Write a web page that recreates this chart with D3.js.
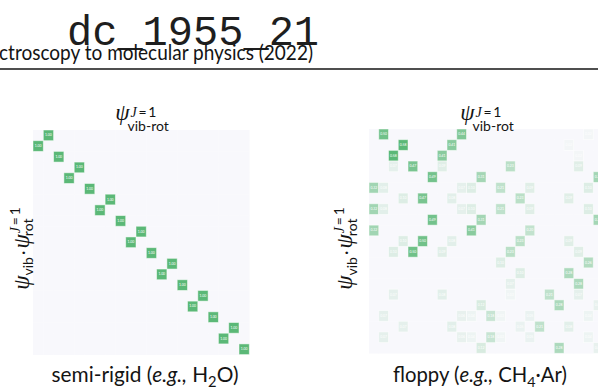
<!DOCTYPE html>
<html>
<head>
<meta charset="utf-8">
<script src="https://cdn.jsdelivr.net/npm/d3@7"></script>
<style>
  html, body { margin: 0; padding: 0; background: #fff; overflow: hidden; }
  svg { display: block; }
</style>
</head>
<body>
<svg id="chart" width="598" height="387"></svg>
<script>
// ---- header text ----
const headerCode = "dc_1955_21";
const headerSubtitle = "ctroscopy to molecular physics (2022)";

// ---- panel captions ----
const panelNames = ["semi-rigid", "floppy"];
const panelExamples = [["H", "2", "O)"], ["CH", "4", "\u00b7Ar)"]];

// ---- semi-rigid molecule: one 1.00 entry per row, column index per row ----
const rigidCols = [1, 0, 2, 4, 3, 5, 7, 6, 8, 10, 9, 11, 13, 12, 14, 16, 15, 17, 19, 18, 20];
const rigidValue = 1.00;
const rigidShape = [21, 21];

// ---- floppy complex: sparse overlap entries [row, col, value] ----
const floppyShape = [21, 24];
const floppyCells = [
  [0, 1, 0.50], [0, 9, 0.44], [0, 22, 0.02],
  [1, 3, 0.58], [1, 8, 0.41], [1, 20, 0.02],
  [2, 2, 0.58], [2, 7, 0.41], [2, 21, 0.02],
  [3, 2, 0.07], [3, 4, 0.47], [3, 7, 0.09], [3, 14, 0.23], [3, 21, 0.09],
  [4, 6, 0.49], [4, 11, 0.31], [4, 23, 0.31],
  [5, 0, 0.32], [5, 1, 0.08], [5, 9, 0.07], [5, 10, 0.10], [5, 13, 0.21], [5, 16, 0.09], [5, 22, 0.10],
  [6, 3, 0.10], [6, 5, 0.47], [6, 8, 0.08], [6, 15, 0.23], [6, 20, 0.09],
  [7, 0, 0.32], [7, 1, 0.08], [7, 9, 0.07], [7, 10, 0.10], [7, 13, 0.21], [7, 16, 0.09], [7, 22, 0.10],
  [8, 6, 0.49], [8, 11, 0.31], [8, 23, 0.31],
  [9, 0, 0.32], [9, 10, 0.41], [9, 16, 0.20],
  [10, 3, 0.10], [10, 5, 0.50], [10, 8, 0.08], [10, 15, 0.23], [10, 20, 0.09],
  [11, 2, 0.10], [11, 4, 0.50], [11, 7, 0.09], [11, 14, 0.23], [11, 21, 0.09],
  [12, 13, 0.10], [12, 22, 0.26],
  [13, 15, 0.10], [13, 20, 0.28],
  [14, 14, 0.07], [14, 21, 0.28],
  [15, 2, 0.07], [15, 7, 0.08], [15, 14, 0.03], [15, 18, 0.21], [15, 21, 0.07],
  [16, 11, 0.12], [16, 19, 0.28], [16, 23, 0.06],
  [17, 1, 0.07], [17, 9, 0.06], [17, 10, 0.04], [17, 12, 0.18], [17, 13, 0.03], [17, 16, 0.05], [17, 22, 0.04],
  [18, 3, 0.07], [18, 8, 0.08], [18, 15, 0.05], [18, 17, 0.21], [18, 20, 0.08],
  [19, 1, 0.07], [19, 9, 0.06], [19, 10, 0.04], [19, 12, 0.18], [19, 13, 0.03], [19, 16, 0.05], [19, 22, 0.04],
  [20, 11, 0.12], [20, 19, 0.28], [20, 23, 0.06]
];

// ---- styling ----
const W = 598, H = 387;
const SANS = "Lato, 'Open Sans', 'DejaVu Sans', sans-serif";
const MATH = "'Liberation Serif', 'DejaVu Serif', serif";
const INK = "#141414";
const LOW = "#f8f8fc", HIGH = "#5bb877";

const svg = d3.select("#chart");

// header: code line, subtitle on top, rule
svg.append("text")
  .attr("x", 67).attr("y", 45)
  .attr("font-family", "'Liberation Mono', 'DejaVu Sans Mono', monospace")
  .attr("font-size", 42).attr("fill", "#1e1e1e")
  .text(headerCode);
svg.append("text")
  .attr("x", -1).attr("y", 60)
  .attr("font-family", SANS).attr("font-size", 21)
  .attr("textLength", 314).attr("lengthAdjust", "spacingAndGlyphs")
  .attr("fill", INK).text(headerSubtitle);
svg.append("line")
  .attr("x1", 0).attr("x2", W).attr("y1", 69).attr("y2", 69)
  .attr("stroke", INK).attr("stroke-width", 1.5);

const panels = [
  {
    name: panelNames[0], example: panelExamples[0],
    shape: rigidShape, vmax: 1.0,
    cells: rigidCols.map((c, r) => [r, c, rigidValue]),
    box: { x0: 33, x1: 249.3, y0: 130, y1: 354.6 },
    titleCx: 142, ylabX: 28.5, capCx: 145, capW: 187
  },
  {
    name: panelNames[1], example: panelExamples[1],
    shape: floppyShape, vmax: 0.58,
    cells: floppyCells,
    box: { x0: 369, x1: 603, y0: 129, y1: 353.3 },
    titleCx: 487, ylabX: 352, capCx: 480, capW: 174
  }
];

const fmt = d3.format(".2f");

function drawHeatmap(g, p) {
  const [nRows, nCols] = p.shape;
  const x = d3.scaleBand().domain(d3.range(nCols)).range([p.box.x0, p.box.x1]);
  const y = d3.scaleBand().domain(d3.range(nRows)).range([p.box.y0, p.box.y1]);
  const color = d3.scaleLinear().domain([0, p.vmax]).range([LOW, HIGH])
    .interpolate(d3.interpolateRgb).clamp(true);
  const lookup = new Map(p.cells.map(d => [d[0] * 1000 + d[1], d[2]]));
  const grid = [];
  for (let r = 0; r < nRows; r++)
    for (let c = 0; c < nCols; c++)
      grid.push({ r, c, v: lookup.get(r * 1000 + c) || 0 });

  // empty background cells first, then the non-zero overlaps on top
  g.selectAll("rect.cell").data(grid.filter(d => d.v === 0)).join("rect")
    .attr("class", "cell")
    .attr("x", d => x(d.c)).attr("y", d => y(d.r))
    .attr("width", x.bandwidth() + 0.3).attr("height", y.bandwidth() + 0.3)
    .attr("fill", LOW);

  g.selectAll("rect.hit").data(grid.filter(d => d.v > 0)).join("rect")
    .attr("class", "hit")
    .attr("x", d => x(d.c)).attr("y", d => y(d.r))
    .attr("width", x.bandwidth()).attr("height", y.bandwidth())
    .attr("fill", d => color(d.v))
    .attr("stroke", "#ffffff").attr("stroke-width", 0.9).attr("stroke-opacity", 0.55);

  g.selectAll("text.val").data(grid.filter(d => d.v > 0)).join("text")
    .attr("class", "val")
    .attr("x", d => x(d.c) + x.bandwidth() / 2)
    .attr("y", d => y(d.r) + y.bandwidth() / 2)
    .attr("text-anchor", "middle").attr("dominant-baseline", "central")
    .attr("font-family", SANS).attr("font-size", 3.4)
    .attr("fill", "#ffffff").text(d => fmt(d.v));
}

// psi^{J=1}_{vib-rot} above each map
function drawTitle(g, cx, base) {
  const grp = g.append("g");
  const t = grp.append("text").attr("font-family", SANS).attr("fill", INK);
  t.append("tspan").attr("font-family", MATH).attr("font-style", "italic")
    .attr("font-size", 23).text("\u03c8");
  const sup = t.append("tspan").attr("font-size", 14).attr("dx", 1).attr("dy", -3.5);
  sup.append("tspan").attr("font-family", MATH).attr("font-style", "italic").text("J");
  sup.append("tspan").text("\u2009=\u20091");
  const supW = sup.node().getComputedTextLength();
  t.append("tspan").attr("font-size", 14)
    .attr("dx", -(supW + 3)).attr("dy", 14).text("vib-rot");
  const bb = grp.node().getBBox();
  grp.attr("transform", `translate(${cx - bb.x - bb.width / 2},${base})`);
}

// psi_vib . psi^{J=1}_rot along the left side, reading upward
function drawYLabel(g, bx, cy) {
  const grp = g.append("g");
  const t = grp.append("text").attr("font-family", SANS).attr("fill", INK);
  t.append("tspan").attr("font-family", MATH).attr("font-style", "italic")
    .attr("font-size", 23).text("\u03c8");
  t.append("tspan").attr("font-size", 14).attr("dy", 4.5).text("vib");
  t.append("tspan").attr("font-size", 17).attr("dy", -4.5).text("\u2009\u00b7\u2009");
  t.append("tspan").attr("font-family", MATH).attr("font-style", "italic")
    .attr("font-size", 23).text("\u03c8");
  const sup = t.append("tspan").attr("font-size", 14).attr("dx", 1).attr("dy", -8.5);
  sup.append("tspan").attr("font-family", MATH).attr("font-style", "italic").text("J");
  sup.append("tspan").text("\u2009=\u20091");
  const supW = sup.node().getComputedTextLength();
  t.append("tspan").attr("font-size", 14)
    .attr("dx", -(supW + 3)).attr("dy", 13).text("rot");
  const bb = grp.node().getBBox();
  grp.attr("transform", `translate(${bx},${cy + bb.x + bb.width / 2}) rotate(-90)`);
}

// caption under each map
function drawCaption(g, p, base) {
  const grp = g.append("g");
  const t = grp.append("text").attr("font-family", SANS).attr("font-size", 17).attr("fill", INK);
  t.append("tspan").text(p.name + " (");
  t.append("tspan").attr("font-style", "italic").text("e.g.,");
  t.append("tspan").text(" " + p.example[0]);
  t.append("tspan").attr("font-size", 12).attr("dy", 4).text(p.example[1]);
  t.append("tspan").attr("dy", -4).text(p.example[2]);
  const bb = grp.node().getBBox();
  const k = p.capW / bb.width;
  grp.attr("transform",
    `translate(${p.capCx},${base}) scale(${k}) translate(${-bb.x - bb.width / 2},0)`);
}

panels.forEach(p => {
  const g = svg.append("g");
  drawHeatmap(g, p);
  drawTitle(g, p.titleCx, 120);
  drawYLabel(g, p.ylabX, 248.5);
  drawCaption(g, p, 382);
});
</script>
</body>
</html>
